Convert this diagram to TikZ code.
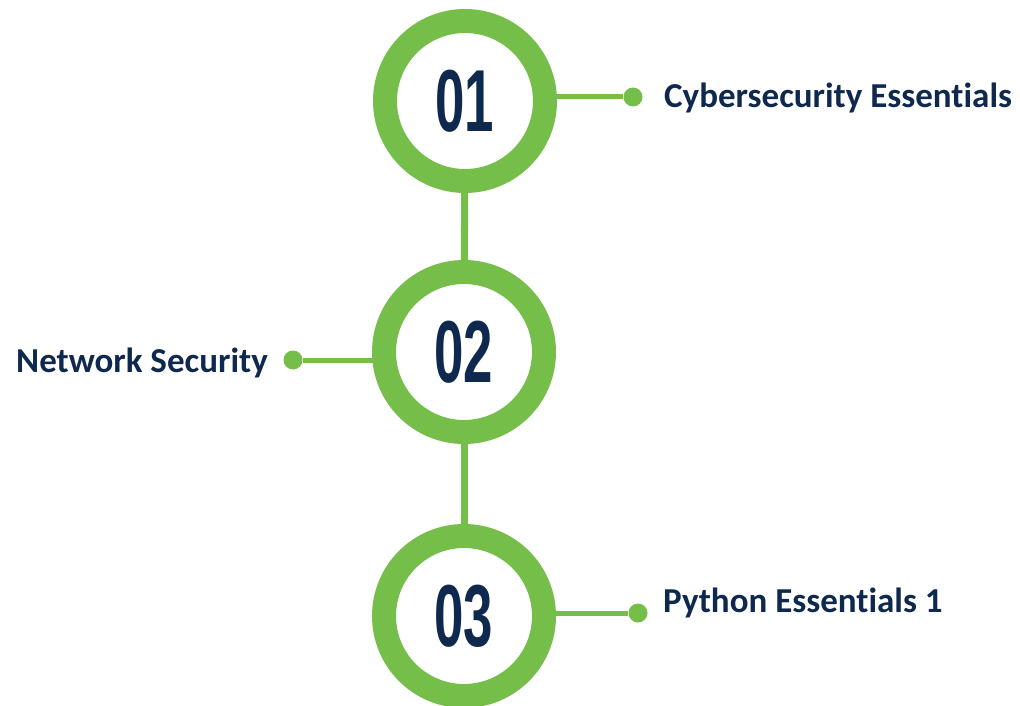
\documentclass[tikz,border=0pt]{standalone}
\usepackage{fontspec}
\setmainfont[Ligatures=NoCommon]{Carlito}
\newfontfamily\numfont{Liberation Sans}
\usetikzlibrary{backgrounds}
\definecolor{ringgreen}{RGB}{118,190,74}
\definecolor{navy}{RGB}{15,41,78}
\tikzset{
  ring/.style={circle, draw=ringgreen, line width=24pt, fill=white, minimum size=160pt, inner sep=0pt},
  num/.style={text=navy, font=\numfont\bfseries\fontsize{88}{88}\selectfont},
  dot/.style={circle, fill=ringgreen, minimum size=19pt, inner sep=0pt},
  link/.style={draw=ringgreen, line width=5pt},
  vlink/.style={draw=ringgreen, line width=7pt},
  label/.style={text=navy, font=\bfseries\fontsize{35}{35}\selectfont, inner sep=0pt},
}
\begin{document}
\begin{tikzpicture}[x=1pt,y=-1pt]
\useasboundingbox (0,0) rectangle (1020,706);
\node[ring] (c1) at (465,101) {};
\node[ring] (c2) at (464,352) {};
\node[ring] (c3) at (464,616) {};
\node[num] at (c1) {\scalebox{0.6}[1]{01}};
\node[num] at (c2) {\scalebox{0.6}[1]{02}};
\node[num] at (c3) {\scalebox{0.6}[1]{03}};
\node[dot] (d1) at (633,97) {};
\node[dot] (d2) at (293,360) {};
\node[dot] (d3) at (638,613) {};
\node[label, anchor=base west] (t1) at (664,108) {Cybersecurity Essentials};
\node[label, anchor=base west] (t2) at (16,372) {Network Security};
\node[label, anchor=base west] (t3) at (663,612) {Python Essentials 1};
\begin{scope}[on background layer]
\draw[vlink] (c1) -- (c2);
\draw[vlink] (c2) -- (c3);
\draw[link] (d1) -- (d1 -| c1);
\draw[link] (d2) -- (d2 -| c2);
\draw[link] (d3) -- (d3 -| c3);
\end{scope}
\end{tikzpicture}
\end{document}
